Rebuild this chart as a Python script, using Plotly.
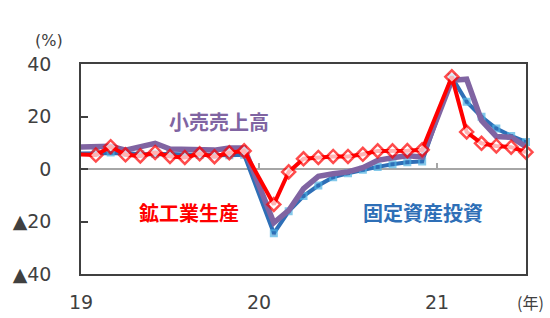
import plotly.graph_objects as go

# month index: 0 = Jan 2019; Jan values are absent (Jan-Feb combined), Dec 2018 = -1
months = [-1, 1, 2, 3, 4, 5, 6, 7, 8, 9, 10, 11,
          13, 14, 15, 16, 17, 18, 19, 20, 21, 22, 23,
          25, 26, 27, 28, 29, 30]

industrial = [5.7, 5.3, 8.5, 5.4, 5.0, 6.3, 4.8, 4.4, 5.8, 4.7, 6.2, 6.9,
              -13.5, -1.1, 3.9, 4.4, 4.8, 4.8, 5.6, 6.9, 6.9, 7.0, 7.3,
              35.1, 14.1, 9.8, 8.8, 8.3, 6.4]
retail = [8.2, 8.2, 8.7, 7.2, 8.6, 9.8, 7.6, 7.5, 7.8, 7.2, 8.0, 8.0,
          -20.5, -15.8, -7.5, -2.8, -1.8, -1.1, 0.5, 3.3, 4.3, 5.0, 4.6,
          33.8, 34.2, 18.5, 12.4, 12.1, 8.5]
fixed_inv = [5.9, 6.1, 6.3, 6.1, 5.6, 5.8, 5.7, 5.5, 5.4, 5.2, 5.2, 5.4,
             -24.5, -16.1, -10.3, -6.3, -3.1, -1.6, -0.3, 0.8, 1.8, 2.6, 2.9,
             35.0, 25.6, 19.9, 15.4, 12.6, 10.3]

x_tickvals = [0, 12, 24]
x_ticktext = ["19", "20", "21"]
y_tickvals = [-40, -20, 0, 20, 40]
y_ticktext = ["▲40", "▲20", "0", "20", "40"]

RED = "#ff0000"
PURPLE = "#8064a2"
BLUE = "#2e6fb7"
LIGHTBLUE = "#4fb3e3"
NUM_FONT = "DejaVu Sans"
CJK_FONT = "Noto Sans CJK JP"

def msize(s):
    return [0 if m < 0 else s for m in months]

fig = go.Figure()
fig.add_trace(go.Scatter(
    x=months, y=fixed_inv, mode="lines+markers", cliponaxis=False,
    line=dict(color=BLUE, width=4),
    marker=dict(symbol="square", size=msize(6), color=BLUE,
                line=dict(color=LIGHTBLUE, width=2)),
    showlegend=False, hoverinfo="skip"))
fig.add_trace(go.Scatter(
    x=months, y=retail, mode="lines",
    line=dict(color=PURPLE, width=5.5),
    showlegend=False, hoverinfo="skip"))
fig.add_trace(go.Scatter(
    x=months, y=industrial, mode="lines+markers", cliponaxis=False,
    line=dict(color=RED, width=4),
    marker=dict(symbol="diamond", size=msize(10), color="white",
                line=dict(color=RED, width=2.5)),
    showlegend=False, hoverinfo="skip"))
# helper trace for the tick marks drawn on the zero line
fig.add_trace(go.Scatter(x=[0, 30], y=[0, 0], xaxis="x2", mode="lines",
                         line=dict(width=0), showlegend=False, hoverinfo="skip"))

fig.update_layout(
    width=550, height=318,
    margin=dict(l=81, r=24, t=64, b=44, autoexpand=False),
    plot_bgcolor="white", paper_bgcolor="white",
    xaxis=dict(range=[0, 30], tickvals=x_tickvals, ticktext=x_ticktext,
               automargin=False,
               showgrid=False, zeroline=False, showline=True, mirror=True,
               linecolor="#404040", linewidth=1.5, ticks="",
               ticklabelstandoff=10,
               tickfont=dict(family=NUM_FONT, size=19, color="#404040")),
    xaxis2=dict(overlaying="x", matches="x", anchor="free", position=0.5,
                automargin=False,
                tickvals=[12, 24], ticks="inside", ticklen=6, tickwidth=1.5,
                tickcolor="#a6a6a6", showticklabels=False, showline=False,
                showgrid=False, zeroline=False),
    yaxis=dict(range=[-40, 40], tickvals=y_tickvals, ticktext=y_ticktext,
               automargin=False,
               showgrid=False, zeroline=True, zerolinecolor="#a6a6a6",
               zerolinewidth=1.5, showline=True, mirror=True,
               linecolor="#404040", linewidth=1.5, ticks="inside",
               ticklen=7, tickwidth=1.5, tickcolor="#404040",
               ticklabelstandoff=24,
               tickfont=dict(family=NUM_FONT, size=19, color="#404040")),
    annotations=[
        dict(text="(%)", xref="paper", yref="paper", x=-0.072, y=1.114,
             xanchor="center", yanchor="middle", showarrow=False,
             font=dict(family=NUM_FONT, size=16, color="#404040")),
        dict(text="(年)", xref="paper", yref="paper", x=1.011, y=-0.133,
             xanchor="center", yanchor="middle", showarrow=False,
             font=dict(family=CJK_FONT, size=16, color="#404040")),
        dict(text="<b>小売売上高</b>", xref="x", yref="y", x=9.3, y=18.2,
             xanchor="center", yanchor="middle", showarrow=False,
             font=dict(family=CJK_FONT, size=20, color=PURPLE)),
        dict(text="<b>鉱工業生産</b>", xref="x", yref="y", x=7.3, y=-16.7,
             xanchor="center", yanchor="middle", showarrow=False,
             font=dict(family=CJK_FONT, size=20, color=RED)),
        dict(text="<b>固定資産投資</b>", xref="x", yref="y", x=23.05, y=-16.7,
             xanchor="center", yanchor="middle", showarrow=False,
             font=dict(family=CJK_FONT, size=20, color=BLUE)),
    ],
)

fig.write_html("out.html")
